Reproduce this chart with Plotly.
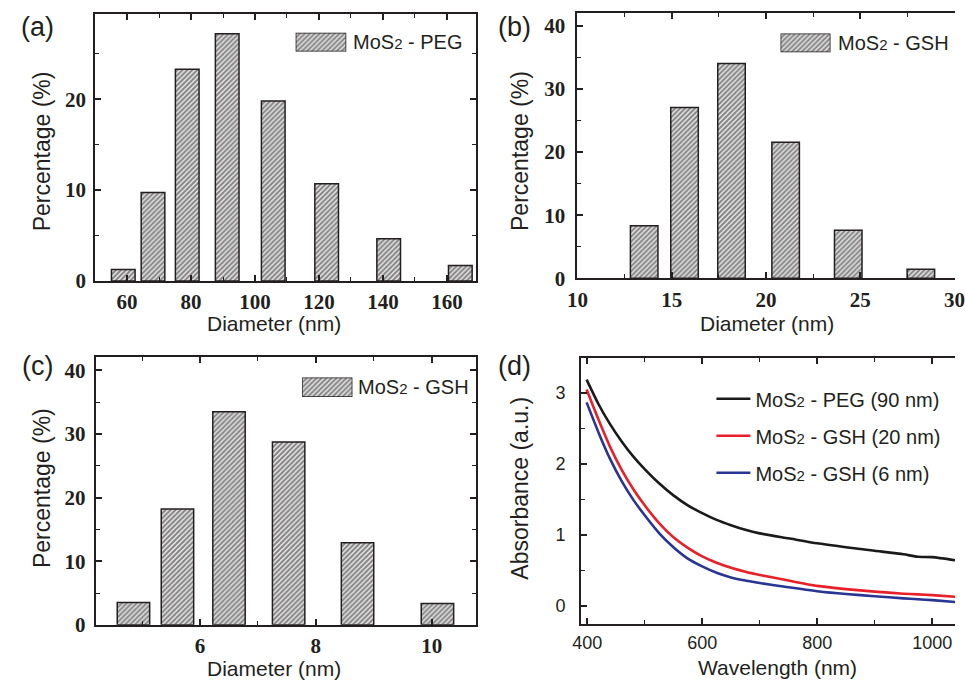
import plotly.graph_objects as go

# ---------------- data ----------------
peg_diam = [58.8, 68.1, 78.8, 91.3, 105.7, 122.4, 141.8, 164.2]
peg_pct = [1.26, 9.73, 23.3, 27.2, 19.8, 10.7, 4.65, 1.7]

gsh20_diam = [13.54, 15.68, 18.17, 21.04, 24.36, 28.21]
gsh20_pct = [8.33, 27.06, 34.0, 21.56, 7.62, 1.45]

gsh6_diam = [4.85, 5.61, 6.50, 7.53, 8.72, 10.1]
gsh6_pct = [3.5, 18.2, 33.5, 28.75, 12.9, 3.35]

wavelength = [399, 420, 440, 460, 480, 500, 525, 550, 575, 600, 625, 650, 675,
              700, 750, 800, 850, 900, 950, 975, 1000, 1045]
abs_peg = [3.19, 2.84, 2.56, 2.32, 2.11, 1.93, 1.73, 1.56, 1.42, 1.31, 1.215, 1.14, 1.075,
           1.025, 0.955, 0.885, 0.83, 0.78, 0.73, 0.695, 0.69, 0.64]
abs_gsh20 = [3.05, 2.62, 2.24, 1.92, 1.65, 1.42, 1.17, 0.97, 0.82, 0.70, 0.61, 0.54, 0.485,
             0.44, 0.36, 0.285, 0.24, 0.205, 0.175, 0.165, 0.155, 0.13]
abs_gsh6 = [2.87, 2.44, 2.07, 1.76, 1.50, 1.28, 1.03, 0.83, 0.67, 0.56, 0.47, 0.405, 0.36,
            0.325, 0.265, 0.21, 0.17, 0.14, 0.11, 0.097, 0.085, 0.055]

SUB2 = "<span style='font-size:15px'>2</span>"
bar_legend = ["MoS" + SUB2 + " - PEG", "MoS" + SUB2 + " - GSH", "MoS" + SUB2 + " - GSH"]
line_names = ["MoS" + SUB2 + " - PEG (90 nm)", "MoS" + SUB2 + " - GSH (20 nm)",
              "MoS" + SUB2 + " - GSH (6 nm)"]
line_colors = ["#1a1a1a", "#e8202a", "#283592"]

# ---------------- geometry helpers ----------------
W, H = 965, 686
INK = "#231f20"
SANS = "Liberation Sans"
SERIF = "Liberation Serif"


def dx(a, b):
    return [a / W, b / W]


def dy(top, bottom):
    return [1 - bottom / H, 1 - top / H]


def axis(domain, rng, dtick, mdtick, anchor, serif=True, mirror="ticks", standoff=2):
    tf = dict(family=SERIF, size=21, color=INK, weight="bold") if serif else \
        dict(family=SANS, size=18, color=INK)
    return dict(domain=domain, range=rng, anchor=anchor, dtick=dtick, tick0=0,
                showline=True, linewidth=2, linecolor=INK, mirror=mirror,
                ticks="inside", ticklen=6, tickwidth=1.5, tickcolor=INK,
                minor=dict(dtick=mdtick, ticks="inside", ticklen=4, tickwidth=1.2,
                           tickcolor=INK, tick0=0),
                showgrid=False, zeroline=False, tickfont=tf,
                ticklabelstandoff=standoff, ticklabeloverflow="allow")


def hidden(domain, anchor):
    return dict(domain=domain, range=[0, 1], anchor=anchor, visible=False,
                fixedrange=True)


BG = "#e6e6e6"
pattern = dict(shape="/", fgcolor="#1f1c1d", bgcolor=BG, size=3.5, solidity=0.55)
bar_line = dict(color=INK, width=1.5)

fig = go.Figure()

# bars
fig.add_trace(go.Bar(x=peg_diam, y=peg_pct, width=7.4, xaxis="x", yaxis="y",
                     marker=dict(pattern=pattern, line=bar_line, color=BG),
                     showlegend=False))
fig.add_trace(go.Bar(x=gsh20_diam, y=gsh20_pct, width=1.46, xaxis="x2", yaxis="y2",
                     marker=dict(pattern=pattern, line=bar_line, color=BG),
                     showlegend=False))
fig.add_trace(go.Bar(x=gsh6_diam, y=gsh6_pct, width=0.56, xaxis="x3", yaxis="y3",
                     marker=dict(pattern=pattern, line=bar_line, color=BG),
                     showlegend=False))

# lines
for i, (vals, nm, col) in enumerate(zip([abs_peg, abs_gsh20, abs_gsh6], line_names, line_colors)):
    fig.add_trace(go.Scatter(x=wavelength, y=vals, mode="lines", name=nm,
                             line=dict(color=col, width=2.6, shape="spline", smoothing=0.6),
                             xaxis="x4", yaxis="y4", legendgroup=f"g{i}"))

# legend swatches for bar panels
for k in (5, 6, 7):
    fig.add_trace(go.Bar(x=[0.5], y=[1], width=[1], xaxis=f"x{k}", yaxis=f"y{k}",
                         marker=dict(pattern=pattern, line=bar_line, color=BG),
                         showlegend=False, hoverinfo="skip"))

fig.update_layout(
    width=W, height=H, margin=dict(l=0, r=0, t=0, b=0),
    paper_bgcolor="white", plot_bgcolor="rgba(0,0,0,0)",
    barmode="overlay",
    xaxis=axis(dx(86, 475), [50, 169], 20, 10, "y", standoff=1),
    yaxis=axis(dy(14, 286), [0, 29.4], 10, 5, "x", standoff=3),
    xaxis2=axis(dx(579, 965), [10, 30.02], 5, 2.5, "y2", mirror="ticks", standoff=1),
    yaxis2=axis(dy(13.3, 283.3), [0, 42], 10, 5, "x2", mirror=False, standoff=6),
    xaxis3=axis(dx(86.7, 475), [4.2, 10.76], 2, 1, "y3", standoff=1),
    yaxis3=axis(dy(363.3, 636), [0, 42.1], 10, 5, "x3", standoff=4),
    xaxis4=axis(dx(582.7, 965), [389.3, 1039.6], 200, 100, "y4", serif=False),
    yaxis4=axis(dy(364, 635), [-0.25, 3.5], 1, 0.5, "x4", serif=False, mirror=False, standoff=10),
    xaxis5=hidden(dx(291, 342.7), "y5"), yaxis5=hidden(dy(33.3, 52.3), "x5"),
    xaxis6=hidden(dx(786.7, 837.7), "y6"), yaxis6=hidden(dy(34, 53.3), "x6"),
    xaxis7=hidden(dx(297.7, 349), "y7"), yaxis7=hidden(dy(384.3, 404), "x7"),
    legend=dict(x=716 / W, y=1 - 386 / H, xanchor="left", yanchor="top",
                bgcolor="rgba(0,0,0,0)", font=dict(family=SANS, size=20, color=INK),
                traceorder="grouped", tracegroupgap=8, itemwidth=34),
)

ann = []


def text(x, y, s, size=21, angle=0, xanchor="center"):
    ann.append(dict(x=x / W, y=1 - y / H, xref="paper", yref="paper", text=s,
                    showarrow=False, textangle=angle, xanchor=xanchor, yanchor="middle",
                    font=dict(family=SANS, size=size, color=INK)))


# panel labels
text(27.5, 27.5, "(a)", 27)
text(515, 27.5, "(b)", 27)
text(27.5, 372.5, "(c)", 27)
text(515, 372.5, "(d)", 27)
# axis titles
text(31.7, 154, "Percentage (%)", 23, -90)
text(268.7, 329.5, "Diameter (nm)", 21)
text(521, 154, "Percentage (%)", 23, -90)
text(772.5, 329.5, "Diameter (nm)", 21)
text(31.7, 496.7, "Percentage (%)", 23, -90)
text(268.7, 680, "Diameter (nm)", 21)
text(520, 496.7, "Absorbance (a.u.)", 23, -90)
text(783.7, 679, "Wavelength (nm)", 21)
# bar legends
text(348, 43, bar_legend[0], 20, xanchor="left")
text(843, 44, bar_legend[1], 20, xanchor="left")
text(353, 394, bar_legend[2], 20, xanchor="left")

fig.update_layout(annotations=ann)
fig.write_html("out.html")
